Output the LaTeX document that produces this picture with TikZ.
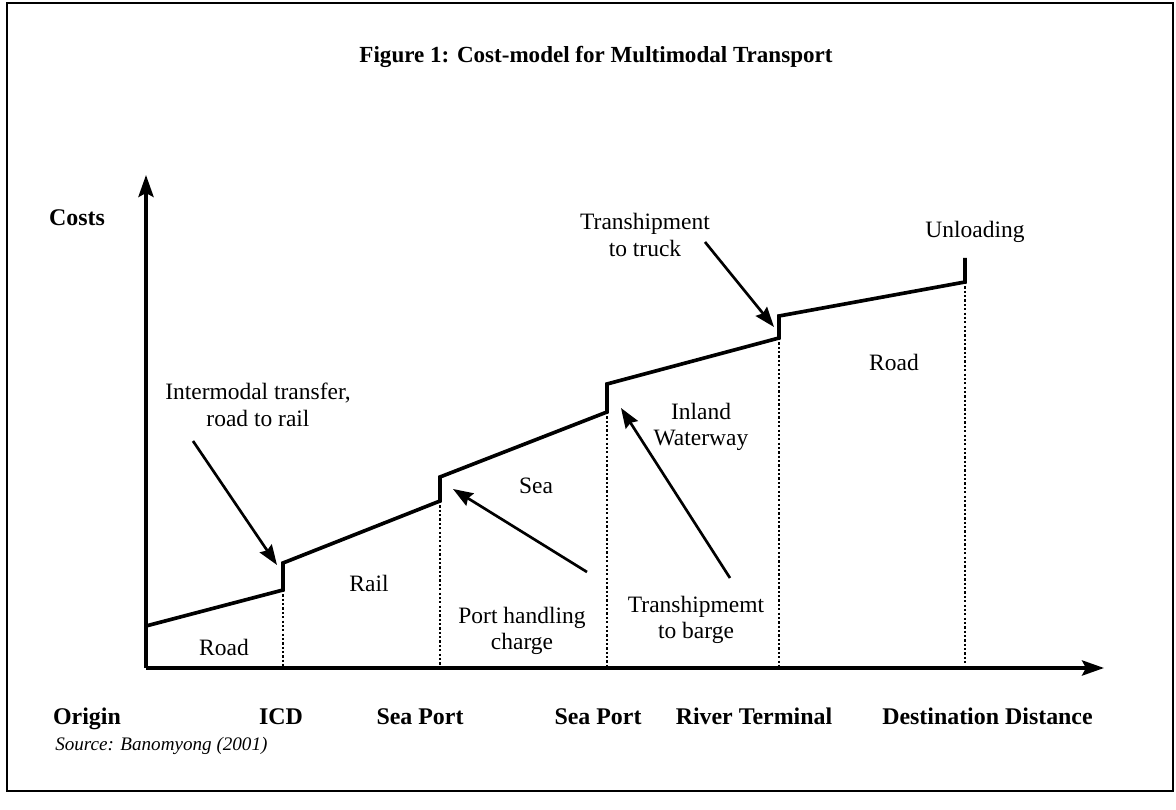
\documentclass[tikz,border=0pt]{standalone}
\usepackage{fontspec}
\setmainfont{Liberation Serif}
\usetikzlibrary{calc,arrows.meta,positioning}
\tikzstyle{costline} = [line width=2.6pt, line join=miter]
\tikzstyle{axis} = [line width=2.4pt, -{Stealth[length=0.55cm,width=0.38cm,inset=0.1cm]}]
\tikzstyle{arrow} = [line width=1.9pt, -{Stealth[length=0.5cm,width=0.36cm,inset=0.06cm]}]
\tikzstyle{stage} = [line width=1.8pt, dash pattern=on 1.6pt off 1.5pt]
\tikzstyle{lbl} = [font=\fontsize{16.7}{19}\selectfont, align=center, inner sep=0pt]
\tikzstyle{place} = [font=\fontsize{17}{20}\selectfont\bfseries, inner sep=0pt, anchor=base]

\begin{document}
\begin{tikzpicture}
	\useasboundingbox (-3.65,-3.525) rectangle (25.75,16.7);
	\draw[line width=1.1pt] (-3.475,-3.075) rectangle (25.675,16.625);

	\node[font=\fontsize{16.4}{20}\selectfont\bfseries] (title) at (11.25,15.275)
		{Figure 1: Cost-model for Multimodal Transport};

	%% Axes
	\coordinate (O) at (0,0);
	\coordinate (Ytip) at (0,12.325);
	\coordinate (Xtip) at (23.95,0);
	\draw[axis] (O) -- (Ytip);
	\draw[axis] (O) -- (Xtip);
	\node[place] (costs) at (-1.725,11.06) {Costs};

	%% Cost line: (L) bottom and (U) top of each step
	\coordinate (S) at (0,1.05);
	\coordinate (L1) at (3.425,1.95);   \coordinate (U1) at (3.425,2.625);
	\coordinate (L2) at (7.35,4.175);   \coordinate (U2) at (7.35,4.775);
	\coordinate (L3) at (11.525,6.4);   \coordinate (U3) at (11.525,7.1);
	\coordinate (L4) at (15.825,8.25);  \coordinate (U4) at (15.825,8.8);
	\coordinate (L5) at (20.475,9.65);  \coordinate (U5) at (20.475,10.25);

	\draw[costline] (S) -- (L1) -- (U1) -- (L2) -- (U2) -- (L3) -- (U3)
		-- (L4) -- (U4) -- (L5) -- (U5);

	%% Stage boundaries down to the distance axis
	\foreach \i in {1,...,5}
	{
	  \draw[stage] (L\i) -- (L\i |- O);
	}

	%% Places along the distance axis (common baseline)
	\node[place] (origin) at (-1.475,-1.4) {Origin};
	\node[place] (icd) at (3.375,-1.4) {ICD};
	\node[place] (port1) at (6.85,-1.4) {Sea Port};
	\node[place] (port2) at (11.3,-1.4) {Sea Port};
	\node[place] (river) at (15.2,-1.4) {River Terminal};
	\node[place, anchor=base west] (dest) at (18.4,-1.4) {Destination Distance};
	\node[lbl, font=\fontsize{13.6}{16}\selectfont\itshape, anchor=west] (source)
		at (-2.275,-1.95) {Source: Banomyong (2001)};

	%% Modes
	\node[lbl] (road1) at (1.95,0.525) {Road};
	\node[lbl] (rail) at (5.575,2.125) {Rail};
	\node[lbl] (sea) at (9.75,4.55) {Sea};
	\node[lbl] (inland) at (13.875,6.025) {Inland\\Waterway};
	\node[lbl] (road2) at (18.7,7.65) {Road};

	%% Transfer costs
	\node[lbl] (transfer) at (2.8,6.575) {Intermodal transfer,\\road to rail};
	\node[lbl] (handling) at (9.4,0.925) {Port handling\\charge};
	\node[lbl] (barge) at (13.75,1.2) {Transhipmemt\\to barge};
	\node[lbl] (truck) at (12.475,10.825) {Transhipment\\to truck};
	\node[lbl] (unload) at (20.725,10.9) {Unloading};

	\coordinate (T1) at (1.175,5.675);   \coordinate (H1) at (3.275,2.575);
	\coordinate (T2) at (11.025,2.4);    \coordinate (H2) at (7.675,4.475);
	\coordinate (T3) at (14.6,2.25);     \coordinate (H3) at (11.875,6.5);
	\coordinate (T4) at (13.975,10.65);  \coordinate (H4) at (15.7,8.525);
	\draw[arrow] (T1) -- (H1);
	\draw[arrow] (T2) -- (H2);
	\draw[arrow] (T3) -- (H3);
	\draw[arrow] (T4) -- (H4);
\end{tikzpicture}
\end{document}
